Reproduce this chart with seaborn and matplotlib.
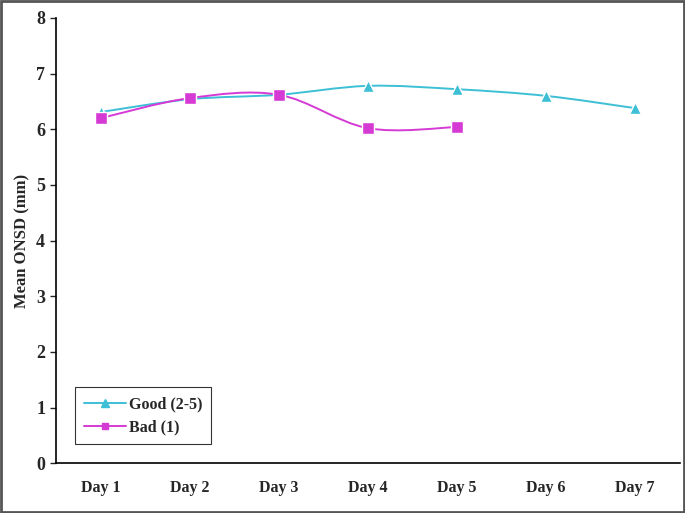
import numpy as np
import pandas as pd
import matplotlib
matplotlib.use('Agg')
import matplotlib.pyplot as plt
import seaborn as sns
from matplotlib.path import Path
from matplotlib.patches import PathPatch, Rectangle

# ------------------------------------------------------------------
# data
# ------------------------------------------------------------------
days = ['Day 1', 'Day 2', 'Day 3', 'Day 4', 'Day 5', 'Day 6', 'Day 7']
good = [6.31, 6.54, 6.62, 6.78, 6.72, 6.60, 6.38]
bad = [6.20, 6.56, 6.62, 6.02, 6.04]
series_names = ['Good (2-5)', 'Bad (1)']

good_color = '#3dbfd6'
bad_color = '#d53ad5'

df = pd.concat([
    pd.DataFrame({'day': np.arange(len(good)), 'onsd': good, 'group': series_names[0]}),
    pd.DataFrame({'day': np.arange(len(bad)), 'onsd': bad, 'group': series_names[1]}),
])

sns.set_style('white')
plt.rcParams['font.family'] = ['Liberation Serif', 'DejaVu Serif']
plt.rcParams['font.weight'] = 'bold'

fig = plt.figure(figsize=(6.85, 5.13), dpi=100)
ax = fig.add_axes([0.082, 0.097, 0.910, 0.868])


def smooth_path(x, y):
    # excel-like smoothed line: catmull-rom segments as cubic beziers
    x = np.asarray(x, float)
    y = np.asarray(y, float)
    n = len(x)
    verts = [(x[0], y[0])]
    codes = [Path.MOVETO]
    for i in range(n - 1):
        p0 = (x[max(i - 1, 0)], y[max(i - 1, 0)])
        p1 = (x[i], y[i])
        p2 = (x[i + 1], y[i + 1])
        p3 = (x[min(i + 2, n - 1)], y[min(i + 2, n - 1)])
        c1 = (p1[0] + (p2[0] - p0[0]) / 6, p1[1] + (p2[1] - p0[1]) / 6)
        c2 = (p2[0] - (p3[0] - p1[0]) / 6, p2[1] - (p3[1] - p1[1]) / 6)
        verts += [c1, c2, p2]
        codes += [Path.CURVE4] * 3
    return Path(verts, codes)


for name, color in zip(series_names, [good_color, bad_color]):
    sub = df[df['group'] == name]
    ax.add_patch(PathPatch(smooth_path(sub['day'], sub['onsd']),
                           facecolor='none', edgecolor=color, lw=1.4, zorder=2))

sns.lineplot(data=df, x='day', y='onsd', hue='group', style='group',
             palette=[good_color, bad_color], markers=['^', 's'], dashes=False,
             linewidth=0, markersize=8, markeredgewidth=1.0, ax=ax, zorder=3,
             legend=False)

# legend with line + marker
handles = [
    plt.Line2D([], [], color=good_color, marker='^', markersize=6, lw=1.4),
    plt.Line2D([], [], color=bad_color, marker='s', markersize=5, lw=1.4),
]
leg = ax.legend(handles, series_names, loc='lower left', bbox_to_anchor=(0.0, 0.0),
                frameon=True, fancybox=False, edgecolor='black', handlelength=2.6,
                prop={'family': 'Liberation Serif', 'weight': 'bold', 'size': 11.5},
                borderpad=0.55, labelspacing=0.45, handletextpad=0.2,
                borderaxespad=1.2)
leg.get_frame().set_linewidth(0.8)

ax.set_xlim(-0.5, 6.5)
ax.set_ylim(0, 8)
ax.set_xticks(np.arange(-0.5, 7.0, 1.0))
ax.set_xticklabels([])
ax.set_xticks(np.arange(len(days)), minor=True)
ax.set_xticklabels(days, minor=True, fontsize=11.5, fontweight='bold')
ax.tick_params(axis='x', which='major', direction='inout', length=6, width=1)
ax.tick_params(axis='x', which='minor', length=0, pad=12)
ax.set_yticks(range(0, 9))
ax.set_yticklabels([str(v) for v in range(0, 9)], fontsize=13, fontweight='bold')
ax.tick_params(axis='y', direction='out', length=4, width=1, left=True, pad=4)

ax.set_xlabel('')
ax.set_ylabel('Mean ONSD (mm)', fontsize=12, fontweight='bold', labelpad=4)

for side in ['top', 'right']:
    ax.spines[side].set_visible(False)
for side in ['left', 'bottom']:
    ax.spines[side].set_color('black')
    ax.spines[side].set_linewidth(1.2)

# grey image border
fig.patches.append(Rectangle((0.001, 0.001), 0.998, 0.998, transform=fig.transFigure,
                             fill=False, edgecolor='#555555', lw=2))

fig.savefig('out.png', dpi=100)
